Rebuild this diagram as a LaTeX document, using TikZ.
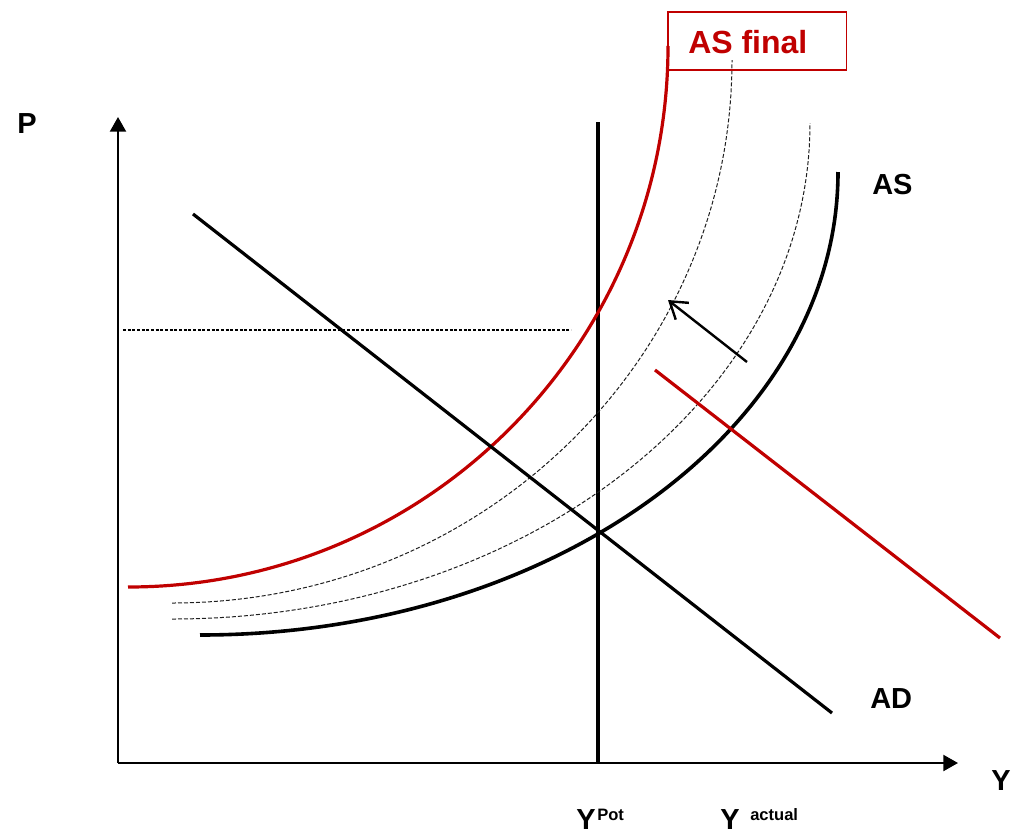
\documentclass[tikz,border=0pt]{standalone}
\usepackage{fontspec}
\setmainfont{Liberation Sans}
\usetikzlibrary{arrows.meta}
\definecolor{asred}{RGB}{192,0,0}
\definecolor{dashgrey}{RGB}{30,30,30}
\tikzset{
  lbl/.style={anchor=base west, inner sep=0pt, font=\fontsize{21.75}{24}\selectfont\bfseries},
  suplbl/.style={anchor=base west, inner sep=0pt, font=\fontsize{12.4}{14}\selectfont\bfseries},
  axisline/.style={line width=1.6pt, -{Triangle[length=11pt,width=12pt]}},
  thickline/.style={line width=2.4pt},
  ascurve/.style={line width=2.7pt, black},
  redcurve/.style={line width=2.4pt, asred},
  shiftcurve/.style={line width=0.75pt, dashgrey, dash pattern=on 3pt off 1.5pt},
  dotline/.style={line width=2.2pt, dash pattern=on 2.2pt off 1.3pt},
  shiftarrow/.style={line width=1.8pt, -{Straight Barb[length=12pt,width=16pt]}},
}
\begin{document}
\begin{tikzpicture}[x=0.75pt,y=-0.75pt]
\useasboundingbox (0,0) rectangle (1014,836);

% coordinates
\coordinate (origin) at (118,763);
\coordinate (ytop) at (118,117);
\coordinate (xend) at (958,763);
\coordinate (pottop) at (598,122);
\coordinate (potbot) at (598,763);
\coordinate (adstart) at (193,214);
\coordinate (adend) at (832,713);
\coordinate (radstart) at (655,370);
\coordinate (radend) at (1000,638);
\coordinate (dotstart) at (123,330);
\coordinate (dotend) at (571,330);
\coordinate (arrtail) at (747,362);
\coordinate (arrtip) at (668,300);
\coordinate (asstart) at (200,635);
\coordinate (asfstart) at (128,587);
\coordinate (d1start) at (172,603);
\coordinate (d2start) at (172,619);

% axes
\draw[axisline] (origin) -- (ytop);
\draw[axisline] (origin) -- (xend);

% potential output
\draw[line width=2.6pt] (pottop) -- (potbot);

% dotted price level
\draw[dotline] (dotstart) -- (dotend);

% shifting AS (dashed) - quarter ellipses
\draw[shiftcurve] (d1start) arc[start angle=270, end angle=360, x radius=420pt, y radius=407.25pt];
\draw[shiftcurve] (d2start) arc[start angle=270, end angle=360, x radius=478.5pt, y radius=372pt];

% AS
\draw[ascurve] (asstart) arc[start angle=270, end angle=360, x radius=478.5pt, y radius=347.25pt];

% AS final
\draw[redcurve] (asfstart) arc[start angle=270, end angle=360, x radius=405pt, y radius=405.75pt];

% AD lines
\draw[thickline] (adstart) -- (adend);
\draw[thickline, asred] (radstart) -- (radend);

% shift arrow
\draw[shiftarrow] (arrtail) -- (arrtip);

% labels
\node[lbl] (plabel) at (17,133) {P};
\node[lbl] (ylabel) at (991,790) {Y};
\node[lbl] (aslabel) at (872,194) {AS};
\node[lbl] (adlabel) at (870,708) {AD};
\node[lbl, text depth=0pt] (ypot) at (576,829) {Y};
\node[suplbl, text depth=0pt] (pot) at (597,820) {Pot};
\node[lbl, text depth=0pt] (yact) at (720,829) {Y};
\node[suplbl, text depth=0pt] (act) at (750,820) {actual};

% AS final box
\node[draw=asred, line width=1.2pt, anchor=north west, inner sep=0pt,
      minimum width=134pt, minimum height=43.5pt] (asfinalbox) at (667,11) {};
\node[anchor=base west, inner sep=0pt, text=asred,
      font=\fontsize{24}{26}\selectfont\bfseries] (asfinal) at (688,53) {AS final};
\end{tikzpicture}
\end{document}
